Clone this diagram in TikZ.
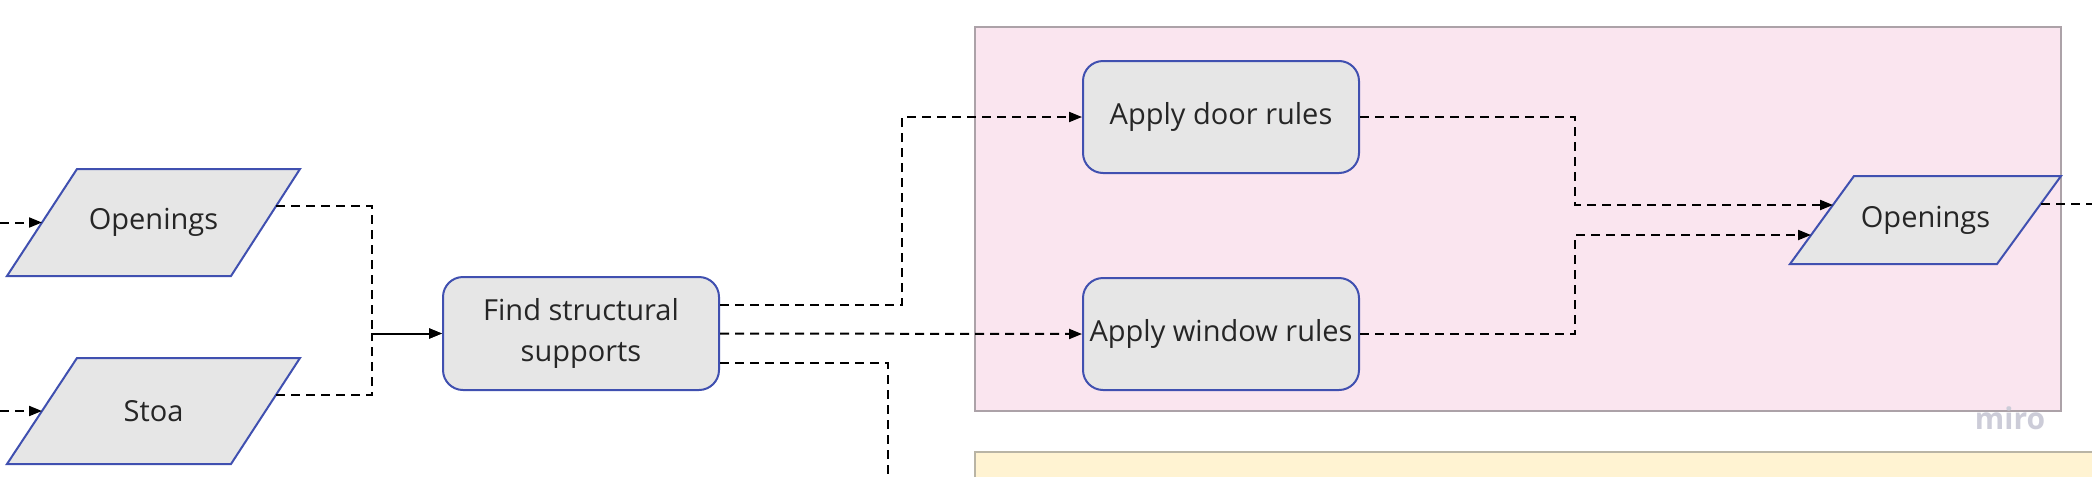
\documentclass[tikz,border=0pt]{standalone}
\usepackage{fontspec}
\setmainfont{Open Sans}
\usetikzlibrary{arrows.meta,calc,backgrounds}
\definecolor{boxblue}{RGB}{64,80,176}
\definecolor{boxgray}{RGB}{230,230,230}
\definecolor{textgray}{RGB}{38,38,38}
\definecolor{pinkfill}{RGB}{250,229,239}
\definecolor{pinkline}{RGB}{172,162,168}
\definecolor{yellowfill}{RGB}{255,243,210}
\definecolor{yellowline}{RGB}{185,180,165}
\definecolor{miroc}{RGB}{204,204,216}
\begin{document}
\begin{tikzpicture}[x=0.5pt,y=-0.5pt,
  basefont/.style={font=\fontsize{14.5}{20.5}\selectfont, text=textgray},
  paratext/.style={inner sep=0pt, basefont},
  parashape/.style={draw=boxblue, fill=boxgray, line width=1pt, line join=miter},
  procbox/.style={rectangle, rounded corners=10pt, draw=boxblue, fill=boxgray,
    line width=1pt, inner sep=0pt, minimum width=138pt, minimum height=56.5pt,
    align=center, basefont},
  conn/.style={line width=1pt, dash pattern=on 4.5pt off 3pt},
  arr/.style={conn, -{Triangle[length=6.5pt,width=5pt]}},
  region/.style={line width=0.6pt}]
\useasboundingbox (0,0) rectangle (2092,477);
% parallelogram nodes (text)
\node[paratext] (op1) at (153.5,222.5) {Openings};
\node[paratext] (stoa) at (153.5,411) {Stoa};
\node[paratext] (op2) at (1925.5,220) {Openings};
\begin{scope}[on background layer]
% regions
\draw[region, draw=pinkline, fill=pinkfill] (975,27) rectangle (2061,411);
\fill[yellowfill] (975,452) rectangle (2092,477);
\draw[region, draw=yellowline] (975,477) -- (975,452) -- (2092,452);
% parallelogram outlines
\draw[parashape] ($(op1)+(-146.5,53.5)$) -- ++(70,-107) -- ++(223,0) -- ++(-69,107) -- cycle;
\draw[parashape] ($(stoa)+(-146.5,53)$) -- ++(70,-106) -- ++(223,0) -- ++(-69,106) -- cycle;
\draw[parashape] ($(op2)+(-135.5,44)$) -- ++(64,-88) -- ++(207,0) -- ++(-64,88) -- cycle;
\end{scope}
\node[font=\fontsize{15}{17}\selectfont\bfseries, text=miroc] (miro) at (2010,418) {miro};
% process boxes
\node[procbox] (find) at (581,333.5) {Find structural\\supports};
\node[procbox, minimum height=56pt] (door) at (1221,117) {Apply door rules};
\node[procbox, minimum height=56pt] (window) at (1221,334) {Apply window rules};
% helper coordinates on the parallelogram edges
\coordinate (in1) at (0,222.5);
\coordinate (in2) at (0,411);
\coordinate (op1in) at ($(op1)+(-111.5,0)$);
\coordinate (stoain) at ($(stoa)+(-111.5,0)$);
\coordinate (op1out) at ($(op1)+(122.5,-16.5)$);
\coordinate (stoaout) at ($(stoa)+(122.5,-16)$);
\coordinate (op2in1) at ($(op2)+(-92.5,-15)$);
\coordinate (op2in2) at ($(op2)+(-114.5,15)$);
\coordinate (op2out) at ($(op2)+(115.5,-16)$);
\coordinate (j1) at (372,333.5);
\coordinate (fdown) at (888,480);
% connectors
\draw[arr] (in1) -- (op1in);
\draw[arr] (in2) -- (stoain);
\draw[arr] (op1out) -| (j1) -- (find.west);
\draw[arr] (stoaout) -| (j1) -- (find.west);
\draw[arr] ($(find.east)+(0,-28.5)$) -- ++(182,0) |- (door.west);
\draw[arr] (find.east) -- (window.west);
\draw[conn] ($(find.east)+(0,29.5)$) -| (fdown);
\draw[arr] (door.east) -- ++(215,0) |- (op2in1);
\draw[arr] (window.east) -- ++(215,0) |- (op2in2);
\draw[conn] (op2out) -- ++(120,0);
\end{tikzpicture}
\end{document}
